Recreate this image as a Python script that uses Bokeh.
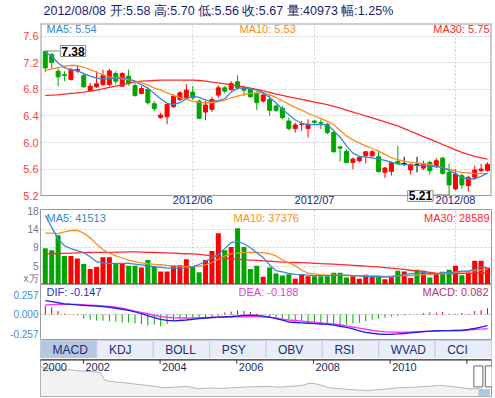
from bokeh.plotting import figure
from bokeh.layouts import column
from bokeh.models import Range1d, FixedTicker, Label, NumeralTickFormatter
from bokeh.embed import file_html
from bokeh.resources import INLINE
from bokeh.core.properties import value

FONT = "Liberation Sans"

# ---------------- data ----------------
date = "2012/08/08"
opens = [7.375, 7.325, 7.075, 7.025, 6.95, 7.08, 7.01, 6.785, 6.84, 6.875,
         6.875, 7.04, 6.85, 7.0, 6.86, 6.74, 6.8, 6.585, 6.375, 6.39,
         6.54, 6.65, 6.675, 6.76, 6.625, 6.46, 6.5, 6.715, 6.825, 6.8,
         6.915, 6.825, 6.8, 6.74, 6.625, 6.65, 6.55, 6.515, 6.325, 6.21,
         6.27, 6.21, 6.325, 6.3, 6.275, 6.15, 5.935, 5.865, 5.7, 5.725,
         5.8, 5.8, 5.785, 5.55, 5.565, 5.715, 5.68, 5.585, 5.66, 5.615,
         5.7, 5.635, 5.765, 5.55, 5.30, 5.5, 5.35, 5.475, 5.575, 5.58]
highs = [7.38, 7.35, 7.125, 7.075, 7.125, 7.16, 7.05, 6.9, 7.075, 7.1,
         7.11, 7.075, 7.06, 7.1, 6.9, 6.85, 6.825, 6.625, 6.45, 6.6,
         6.725, 6.775, 6.885, 6.85, 6.65, 6.625, 6.69, 6.86, 6.85, 6.925,
         7.015, 6.86, 6.825, 6.775, 6.74, 6.725, 6.575, 6.55, 6.375, 6.3,
         6.325, 6.35, 6.335, 6.35, 6.3, 6.175, 5.94, 5.9, 5.775, 5.79,
         5.875, 5.885, 5.875, 5.635, 5.715, 5.95, 5.785, 5.685, 5.785, 5.725,
         5.725, 5.765, 5.785, 5.68, 5.6, 5.53, 5.5, 5.65, 5.68, 5.70]
lows = [7.06, 7.115, 6.85, 6.925, 6.935, 7.05, 6.825, 6.775, 6.825, 6.85,
        6.85, 6.875, 6.84, 6.86, 6.69, 6.725, 6.575, 6.475, 6.36, 6.275,
        6.525, 6.625, 6.65, 6.64, 6.35, 6.335, 6.46, 6.675, 6.74, 6.775,
        6.8, 6.7, 6.675, 6.49, 6.6, 6.4, 6.46, 6.35, 6.185, 6.15,
        6.175, 6.075, 6.275, 6.2, 6.125, 5.85, 5.715, 5.685, 5.6, 5.7,
        5.685, 5.785, 5.55, 5.465, 5.5, 5.675, 5.645, 5.515, 5.55, 5.585,
        5.515, 5.615, 5.515, 5.21, 5.28, 5.3, 5.26, 5.45, 5.55, 5.56]
closes = [7.125, 7.21, 6.99, 7.01, 7.1, 7.1, 6.84, 6.85, 6.885, 7.01,
          7.08, 6.925, 7.04, 6.885, 6.71, 6.815, 6.6, 6.51, 6.415, 6.575,
          6.7, 6.75, 6.79, 6.675, 6.365, 6.565, 6.65, 6.825, 6.775, 6.89,
          6.825, 6.79, 6.69, 6.6, 6.715, 6.485, 6.485, 6.375, 6.21, 6.265,
          6.28, 6.275, 6.305, 6.29, 6.15, 5.86, 5.915, 5.7, 5.75, 5.775,
          5.86, 5.86, 5.56, 5.615, 5.7, 5.675, 5.68, 5.665, 5.66, 5.675,
          5.575, 5.725, 5.535, 5.36, 5.525, 5.36, 5.475, 5.585, 5.60, 5.67]
ma5 = [7.36, 7.30, 7.20, 7.13, 7.10, 7.08, 7.04, 7.00, 6.97, 6.96,
       6.96, 6.97, 6.98, 6.96, 6.92, 6.87, 6.82, 6.74, 6.66, 6.59,
       6.57, 6.60, 6.66, 6.70, 6.68, 6.64, 6.62, 6.63, 6.66, 6.76,
       6.82, 6.825, 6.81, 6.79, 6.75, 6.68, 6.60, 6.50, 6.42, 6.34,
       6.29, 6.27, 6.27, 6.27, 6.27, 6.18, 6.08, 5.95, 5.84, 5.79,
       5.78, 5.77, 5.75, 5.73, 5.70, 5.68, 5.67, 5.66, 5.65, 5.65,
       5.64, 5.64, 5.62, 5.58, 5.53, 5.47, 5.45, 5.45, 5.49, 5.54]
ma10 = [7.085, 7.11, 7.13, 7.15, 7.165, 7.16, 7.135, 7.10, 7.06, 7.02,
        6.99, 6.975, 6.96, 6.95, 6.93, 6.90, 6.865, 6.825, 6.79, 6.75,
        6.71, 6.675, 6.65, 6.625, 6.61, 6.60, 6.60, 6.615, 6.64, 6.675,
        6.70, 6.725, 6.74, 6.75, 6.75, 6.72, 6.68, 6.63, 6.58, 6.53,
        6.49, 6.44, 6.40, 6.36, 6.32, 6.27, 6.18, 6.10, 6.04, 5.99,
        5.95, 5.91, 5.87, 5.82, 5.77, 5.74, 5.72, 5.70, 5.69, 5.68,
        5.665, 5.64, 5.62, 5.60, 5.57, 5.55, 5.54, 5.53, 5.53, 5.53]
ma30 = [6.71, 6.715, 6.72, 6.73, 6.74, 6.75, 6.76, 6.775, 6.79, 6.81,
        6.83, 6.85, 6.87, 6.895, 6.915, 6.925, 6.93, 6.935, 6.94, 6.94,
        6.94, 6.94, 6.94, 6.94, 6.935, 6.925, 6.91, 6.90, 6.885, 6.87,
        6.855, 6.84, 6.82, 6.80, 6.78, 6.755, 6.73, 6.71, 6.69, 6.67,
        6.65, 6.63, 6.61, 6.59, 6.57, 6.545, 6.52, 6.49, 6.46, 6.43,
        6.40, 6.37, 6.34, 6.31, 6.28, 6.25, 6.21, 6.17, 6.13, 6.09,
        6.05, 6.01, 5.97, 5.93, 5.89, 5.85, 5.82, 5.79, 5.77, 5.75]
# volume in units of 10 000 (万)
volumes = [8.9, 8.4, 12.1, 7.0, 7.0, 6.4, 5.0, 3.8, 4.3, 6.7,
           6.7, 5.1, 5.1, 4.6, 4.6, 4.2, 6.0, 4.4, 3.2, 3.2,
           4.8, 4.8, 6.2, 4.3, 3.0, 6.0, 8.2, 12.6, 8.4, 9.2,
           13.8, 9.2, 3.8, 4.6, 1.9, 4.2, 2.7, 2.2, 2.5, 1.4,
           2.6, 2.0, 2.0, 2.0, 2.0, 2.9, 2.9, 1.7, 2.0, 1.4,
           2.4, 2.0, 2.0, 1.3, 1.8, 3.4, 3.2, 1.6, 3.6, 3.4,
           1.7, 2.7, 3.1, 3.6, 4.6, 2.3, 2.9, 5.8, 5.8, 4.0973]
vol_ma5 = [17.0, 14.0, 11.2, 9.5, 8.8, 8.3, 7.8, 6.8, 5.6, 5.3,
           5.2, 5.2, 5.2, 5.2, 5.0, 4.8, 4.6, 4.4, 4.2, 4.0,
           4.0, 4.0, 4.1, 4.4, 4.9, 5.7, 6.5, 7.4, 8.8, 10.3,
           10.6, 10.0, 9.0, 7.8, 6.6, 4.8, 3.4, 3.1, 2.7, 2.5,
           2.4, 2.3, 2.2, 2.2, 2.2, 2.2, 2.3, 2.3, 2.2, 2.1,
           2.0, 1.9, 1.9, 1.8, 1.9, 2.1, 2.4, 2.6, 2.7, 3.0,
           2.7, 2.6, 2.9, 2.9, 3.1, 3.3, 3.3, 3.8, 4.3, 4.1513]
vol_ma10 = [12.6, 12.6, 12.5, 12.9, 13.2, 13.3, 12.6, 11.4, 9.9, 8.6,
            7.7, 7.0, 6.5, 6.0, 5.6, 5.3, 5.1, 4.95, 4.85, 4.7,
            4.6, 4.5, 4.4, 4.4, 4.5, 4.8, 5.4, 6.2, 7.0, 7.6,
            7.7, 7.9, 7.9, 7.85, 7.8, 7.6, 7.0, 6.0, 5.3, 4.6,
            3.5, 2.8, 2.6, 2.4, 2.3, 2.3, 2.3, 2.2, 2.2, 2.1,
            2.1, 2.1, 2.1, 2.0, 2.0, 2.1, 2.2, 2.2, 2.3, 2.4,
            2.5, 2.6, 2.7, 2.8, 3.0, 3.1, 3.2, 3.4, 3.6, 3.7376]
vol_ma30 = [7.5, 7.55, 7.6, 7.65, 7.7, 7.75, 7.8, 7.85, 7.9, 7.9,
            7.9, 7.95, 7.95, 8.0, 8.0, 7.95, 7.9, 7.85, 7.8, 7.75,
            7.7, 7.6, 7.55, 7.5, 7.4, 7.2, 7.0, 6.7, 6.5, 6.3,
            6.2, 6.1, 6.0, 5.9, 5.8, 5.7, 5.6, 5.5, 5.45, 5.4,
            5.35, 5.3, 5.2, 5.1, 5.05, 5.0, 4.9, 4.8, 4.7, 4.6,
            4.5, 4.4, 4.3, 4.15, 4.0, 3.85, 3.7, 3.5, 3.35, 3.2,
            3.0, 2.8, 2.7, 2.7, 2.7, 2.75, 2.8, 2.8, 2.85, 2.8589]
dif = [0.183, 0.17, 0.155, 0.14, 0.133, 0.127, 0.12, 0.115, 0.11, 0.104,
       0.095, 0.083, 0.07, 0.055, 0.035, 0.012, -0.015, -0.042, -0.065, -0.078,
       -0.084, -0.08, -0.072, -0.062, -0.054, -0.047, -0.04, -0.034, -0.03, -0.027,
       -0.02, -0.012, -0.008, -0.012, -0.022, -0.035, -0.055, -0.075, -0.098, -0.105,
       -0.11, -0.115, -0.12, -0.125, -0.13, -0.14, -0.155, -0.17, -0.19, -0.215,
       -0.235, -0.248, -0.257, -0.262, -0.26, -0.256, -0.25, -0.242, -0.234, -0.226,
       -0.219, -0.215, -0.213, -0.212, -0.211, -0.21, -0.198, -0.185, -0.166, -0.147]
dea = [0.126, 0.13, 0.134, 0.137, 0.136, 0.133, 0.128, 0.123, 0.118, 0.113,
       0.105, 0.095, 0.082, 0.065, 0.045, 0.028, 0.01, -0.01, -0.027, -0.036,
       -0.042, -0.045, -0.046, -0.045, -0.043, -0.041, -0.039, -0.037, -0.035, -0.033,
       -0.031, -0.029, -0.027, -0.028, -0.032, -0.038, -0.046, -0.063, -0.072, -0.08,
       -0.088, -0.096, -0.103, -0.11, -0.117, -0.125, -0.135, -0.15, -0.165, -0.18,
       -0.195, -0.208, -0.22, -0.228, -0.232, -0.234, -0.233, -0.23, -0.228, -0.225,
       -0.222, -0.219, -0.216, -0.213, -0.21, -0.207, -0.203, -0.198, -0.193, -0.188]
macd = [0.110, 0.095, 0.046, 0.011, 0.004, -0.010, -0.057, -0.069, -0.080, -0.080,
        -0.088, -0.095, -0.107, -0.107, -0.118, -0.126, -0.145, -0.133, -0.156, -0.126,
        -0.088, -0.069, -0.057, -0.049, -0.049, -0.042, -0.030, -0.019, 0.027, 0.038,
        0.053, 0.046, 0.034, 0.011, 0.004, -0.030, -0.042, -0.057, -0.069, -0.095,
        -0.088, -0.107, -0.118, -0.118, -0.126, -0.133, -0.145, -0.133, -0.118, -0.107,
        -0.088, -0.069, -0.057, -0.042, -0.030, -0.019, -0.011, -0.004, 0.004, 0.019,
        0.027, 0.027, 0.034, 0.011, 0.011, 0.019, 0.008, 0.046, 0.057, 0.082]
month_idx = [23, 42, 64]
month_labels = ["2012/06", "2012/07", "2012/08"]
price_ticks = [5.2, 5.6, 6.0, 6.4, 6.8, 7.2, 7.6]
vol_ticks = [1.45, 4.5, 9, 13.5, 18]
vol_tick_labels = ["x万", "5", "9", "14", "18"]
macd_ticks = [-0.257, 0, 0.257]
tab_names = ["MACD", "KDJ", "BOLL", "PSY", "OBV", "RSI", "WVAD", "CCI"]
nav_years = [2000.88, 2001.0, 2001.2, 2001.4, 2001.6, 2001.8, 2002.0, 2002.2, 2002.45, 2002.55,
             2002.7, 2002.9, 2003.1, 2003.3, 2003.6, 2003.9, 2004.1, 2004.4, 2004.7, 2005.0,
             2005.3, 2005.6, 2005.9, 2006.2, 2006.5, 2006.8, 2007.1, 2007.4, 2007.7, 2007.9,
             2008.1, 2008.4, 2008.8, 2009.1, 2009.4, 2009.8, 2010.2, 2010.6, 2011.0, 2011.3,
             2011.6, 2011.9, 2012.1, 2012.3, 2012.45, 2012.6]
nav_values = [24.8, 24.0, 23.3, 22.6, 22.8, 22.0, 21.4, 21.0, 20.4, 14.0,
              12.8, 12.1, 11.5, 10.7, 9.6, 8.4, 7.4, 7.9, 8.5, 6.5,
              7.2, 6.8, 7.4, 7.9, 8.3, 8.5, 7.9, 8.6, 9.3, 11.3,
              10.5, 7.4, 6.2, 5.6, 5.1, 6.0, 7.4, 7.8, 8.6, 9.3,
              8.5, 7.2, 6.5, 6.5, 5.6, 5.67]
year_ticks = [2002, 2004, 2006, 2008, 2010, 2012]
year_labels = ["2000", "2002", "2004", "2006", "2008", "2010"]
sel_start, sel_end = 2012.30, 2012.60

# ---------------- derived ----------------
N = len(closes)
idx = list(range(N))
RED, GREEN, BLACK = "#ff0000", "#00a600", "#000000"
candle_colors = [RED if c > o else (GREEN if c < o else BLACK) for o, c in zip(opens, closes)]
vol_colors = []
for i, (o, c) in enumerate(zip(opens, closes)):
    if c > o:
        vol_colors.append(RED)
    elif c < o:
        vol_colors.append(GREEN)
    else:
        vol_colors.append(RED if i > 0 and c >= closes[i - 1] else GREEN)
body_top = [max(o, c) for o, c in zip(opens, closes)]
body_bot = [min(o, c) for o, c in zip(opens, closes)]
doji = [i for i in idx if opens[i] == closes[i]]
pct = (closes[-1] / closes[-2] - 1) * 100
title = (f"{date} 开:{opens[-1]:.2f} 高:{highs[-1]:.2f} 低:{lows[-1]:.2f} "
         f"收:{closes[-1]:.2f} 量:{round(volumes[-1] * 10000)} 幅:{pct:.2f}%")

C_MA5, C_MA10, C_MA30 = "#3a86d6", "#ff8a22", "#ff2a2a"
GRID = "#cfcfcf"
BORDER = "#9a9a9a"
W, LEFT, RIGHT = 495, 40, 4

xr = Range1d(-0.749, 69.62)


def make_fig(h, xr_, yr_, top, bottom, y_axis="left"):
    p = figure(width=W, height=h, x_range=xr_, y_range=yr_, output_backend="svg",
               toolbar_location=None, x_axis_location=None, y_axis_location=y_axis,
               min_border_left=LEFT, min_border_right=RIGHT,
               min_border_top=top, min_border_bottom=bottom)
    p.outline_line_color = BORDER
    p.background_fill_color = "white"
    p.border_fill_color = "white"
    return p


def style_axis(ax, color, size="11px", standoff=2):
    ax.axis_line_color = None
    ax.major_tick_line_color = None
    ax.minor_tick_line_color = None
    ax.major_tick_out = 0
    ax.major_tick_in = 0
    ax.major_label_standoff = standoff
    ax.major_label_text_font = FONT
    ax.major_label_text_font_size = size
    ax.major_label_text_color = color


def style_grid(g, ticks):
    g.ticker = FixedTicker(ticks=ticks)
    g.grid_line_color = GRID
    g.grid_line_dash = "2 2"


def legend(p, text, color, side, x_off, y_off, size="11px"):
    x = p.x_range.start if side == "left" else p.x_range.end
    p.add_layout(Label(x=x, y=p.y_range.end, x_offset=x_off, y_offset=y_off,
                       text=text, text_align=side, text_baseline="middle",
                       text_font=FONT, text_font_size=size, text_color=color))


# ---------------- price panel (frame runs on below 5.2 to hold the low marker) ----------------
PY0, PY1 = 5.05, 7.795
p1 = figure(width=W, height=205, x_range=xr, y_range=Range1d(PY0, PY1), output_backend="svg",
            toolbar_location=None, x_axis_location=None, title=title,
            min_border_left=LEFT, min_border_right=RIGHT, min_border_top=22, min_border_bottom=0)
p1.outline_line_color = None
p1.title.align = "left"
p1.title.vertical_align = "top"
p1.title.offset = 3
p1.title.standoff = 7
p1.title.text_font = FONT
p1.title.text_font_size = "12.5px"
p1.title.text_font_style = "normal"
p1.title.text_color = "#1b1b6b"
p1.yaxis.ticker = FixedTicker(ticks=price_ticks)
p1.yaxis.formatter = NumeralTickFormatter(format="0.0")
style_axis(p1.yaxis, "#ff3b3b")
p1.xgrid.visible = False
style_grid(p1.ygrid, price_ticks)
# month separators + panel border
p1.segment(x0=month_idx, y0=[price_ticks[0]] * 3, x1=month_idx, y1=[PY1] * 3,
           line_color=GRID, line_dash="2 2", line_width=1)
p1.segment(x0=[xr.start, xr.end, xr.start, xr.start],
           y0=[price_ticks[0], price_ticks[0], price_ticks[0], PY1],
           x1=[xr.start, xr.end, xr.end, xr.end],
           y1=[PY1, PY1, price_ticks[0], PY1],
           line_color=BORDER, line_width=[2, 2, 1, 2])
p1.text(x=month_idx, y=[5.134] * 3, text=month_labels, text_align="center",
        text_baseline="middle", text_font=value(FONT), text_font_size="11px",
        text_color="#1c2a7a")

p1.segment(x0=idx, y0=lows, x1=idx, y1=highs, line_color=candle_colors, line_width=1)
p1.vbar(x=idx, width=0.62, top=body_top, bottom=body_bot,
        fill_color=candle_colors, line_color=candle_colors, line_width=1)
p1.segment(x0=[i - 0.38 for i in doji], y0=[opens[i] for i in doji],
           x1=[i + 0.38 for i in doji], y1=[opens[i] for i in doji],
           line_color=BLACK, line_width=1)
p1.line(idx, ma30, line_color=C_MA30, line_width=1.3)
p1.line(idx, ma10, line_color=C_MA10, line_width=1.3)
p1.line(idx, ma5, line_color=C_MA5, line_width=1.3)

hi_i = max(idx, key=lambda i: highs[i])
lo_i = min(idx, key=lambda i: lows[i])
p1.segment(x0=[hi_i, lo_i - 2.3], y0=[highs[hi_i], lows[lo_i]],
           x1=[hi_i + 2.2, lo_i], y1=[highs[hi_i], lows[lo_i]],
           line_color="#888888", line_width=1)
for txt, xi, yv, align, xo, yo in [(f"{highs[hi_i]:.2f}", hi_i, highs[hi_i], "left", 15, 0),
                                   (f"{lows[lo_i]:.2f}", lo_i, lows[lo_i], "right", -16, -1)]:
    p1.add_layout(Label(x=xi, y=yv, x_offset=xo, y_offset=yo, text=txt,
                        text_align=align, text_baseline="middle", text_font=FONT,
                        text_font_size="12px", text_font_style="bold", text_color="black",
                        background_fill_color="white", border_line_color="#888888",
                        padding=1))

legend(p1, f"MA5: {ma5[-1]:.2f}", C_MA5, "left", 6, -5)
legend(p1, f"MA10: {ma10[-1]:.2f}", C_MA10, "left", 199, -5)
legend(p1, f"MA30: {ma30[-1]:.2f}", C_MA30, "right", -2, -5)

# ---------------- volume panel ----------------
p2 = make_fig(79, xr, Range1d(0, 18.4), 4, 0)
p2.yaxis.ticker = FixedTicker(ticks=vol_ticks)
p2.yaxis.major_label_overrides = dict(zip(vol_ticks, vol_tick_labels))
style_axis(p2.yaxis, "#77718f", size="10px")
style_grid(p2.xgrid, month_idx)
style_grid(p2.ygrid, [4.5, 9, 13.5])
p2.vbar(x=idx, width=0.78, top=volumes, bottom=0, fill_color=vol_colors, line_color=None)
p2.line(idx, vol_ma30, line_color=C_MA30, line_width=1.3)
p2.line(idx, vol_ma10, line_color=C_MA10, line_width=1.3)
p2.line(idx, vol_ma5, line_color=C_MA5, line_width=1.3)
legend(p2, f"MA5: {round(vol_ma5[-1] * 10000)}", C_MA5, "left", 6, -8)
legend(p2, f"MA10: {round(vol_ma10[-1] * 10000)}", C_MA10, "left", 193, -8)
legend(p2, f"MA30: {round(vol_ma30[-1] * 10000)}", C_MA30, "right", -2, -8)

# ---------------- MACD panel ----------------
p3 = make_fig(56, xr, Range1d(-0.3427, 0.3954), 0, 0)
p3.yaxis.ticker = FixedTicker(ticks=macd_ticks)
p3.yaxis.formatter = NumeralTickFormatter(format="0.000")
style_axis(p3.yaxis, "#3a8fd8", size="10px")
p3.xgrid.visible = False
style_grid(p3.ygrid, [0])
p3.ygrid.grid_line_color = "#bbbbbb"
p3.segment(x0=idx, y0=[0] * N, x1=idx, y1=macd,
           line_color=["#dd0000" if m >= 0 else "#00aa00" for m in macd], line_width=1)
p3.line(idx, dea, line_color="#ff33ff", line_width=1.4)
p3.line(idx, dif, line_color="#2020e0", line_width=1.4)
legend(p3, f"DIF: {dif[-1]:.3f}", "#2a2ad0", "left", 6, -7)
legend(p3, f"DEA: {dea[-1]:.3f}", "#e040e0", "left", 198, -7)
legend(p3, f"MACD: {macd[-1]:.3f}", "#c0307a", "right", -3, -7)

# ---------------- tabs ----------------
p4 = make_fig(18, Range1d(0, len(tab_names)), Range1d(0, 1), 0, 0, y_axis=None)
p4.outline_line_color = "#c3cde0"
p4.xgrid.visible = False
p4.ygrid.visible = False
tl = list(range(len(tab_names)))
p4.quad(left=tl, right=[t + 1 for t in tl], bottom=0, top=1,
        fill_color=["#b7c7e2"] + ["#e8eef8"] * (len(tab_names) - 1),
        line_color="#c3cde0", line_width=1)
p4.text(x=tl, y=[0.5] * len(tl), text=tab_names, x_offset=12, text_align="left",
        text_baseline="middle", text_font=value(FONT), text_font_size="12px",
        text_color="#1d2b78")

# ---------------- navigator ----------------
NX0, NX1, NY1 = 2000.881, 2012.643, 31.3
p5 = make_fig(40, Range1d(NX0, NX1), Range1d(0, NY1), 1, 2, y_axis=None)
p5.xgrid.visible = False
p5.ygrid.visible = False
p5.varea(x=nav_years, y1=0, y2=nav_values, fill_color="#f2f2f2")
sel_x = [x for x in nav_years if x >= sel_start]
sel_y = [v for x, v in zip(nav_years, nav_values) if x >= sel_start]
p5.varea(x=sel_x, y1=0, y2=sel_y, fill_color="#a9cbe3")
p5.line(nav_years, nav_values, line_color="#b5b5b5", line_width=1)
p5.segment(x0=[NX0], y0=[NY1], x1=[NX1], y1=[NY1], line_color="#222222", line_width=2)
p5.segment(x0=year_ticks, y0=[NY1] * len(year_ticks), x1=year_ticks,
           y1=[NY1 - 3.6] * len(year_ticks), line_color="#333333", line_width=1)
year_pos = [nav_years[0]] + year_ticks[:len(year_labels) - 1]
p5.text(x=year_pos, y=[28.0] * len(year_pos), text=year_labels, x_offset=2,
        text_align="left", text_baseline="top", text_font=value(FONT),
        text_font_size="11px", text_color="#1d2b5a")
p5.rect(x=[sel_start, sel_end], y=[17, 17], width=9, height=21,
        width_units="screen", height_units="screen",
        fill_color="white", line_color="#666666", line_width=1)

layout = column(p1, p2, p3, p4, p5, spacing=0)
open("out.html", "w").write(file_html(layout, INLINE))
